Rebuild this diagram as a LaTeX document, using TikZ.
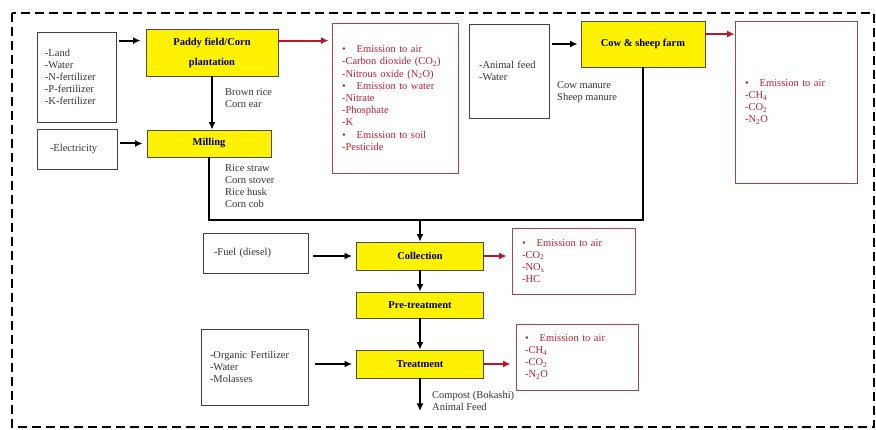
\documentclass[tikz,border=0pt]{standalone}
\usepackage{fontspec}
\setmainfont{Liberation Serif}
\usetikzlibrary{positioning}
\usetikzlibrary{arrows.meta}

\definecolor{boxred}{HTML}{A8424E}
\definecolor{textred}{HTML}{B8202F}
\definecolor{arrowred}{HTML}{C0142C}

\newcommand{\emisbullet}{\textbullet\hspace{11pt}}

\tikzset{
  procbox/.style={draw=black!70, fill=yellow, line width=0.8pt,
    font=\fontsize{10.5}{12}\selectfont\bfseries},
  inbox/.style={draw=black!75, line width=0.8pt, align=left, text=black!80,
    font=\fontsize{10.5}{12}\selectfont},
  emisbox/.style={draw=boxred, line width=0.8pt, align=left, text=textred,
    font=\fontsize{10.5}{12.2}\selectfont},
  flow/.style={->, >={Latex[length=7.5pt,width=7pt]}, line width=2pt},
  redflow/.style={->, >={Latex[length=7.5pt,width=7pt]}, line width=2pt, draw=arrowred},
  note/.style={anchor=west, align=left, inner sep=0pt, text=black!80,
    font=\fontsize{10.5}{11.8}\selectfont},
}

\begin{document}
\begin{tikzpicture}[x=1pt, y=-1pt]
  \useasboundingbox (0,0) rectangle (876,430);
  \draw[line width=2.6pt, dash pattern=on 9pt off 5pt] (12,13) rectangle (874,427);

  % inputs
  \node[inbox, minimum width=79pt, minimum height=90pt, text width=63pt] (land) at (76.5,77)
    {-Land\\-Water\\-N-fertilizer\\-P-fertilizer\\-K-fertilizer};
  \node[inbox, minimum width=80pt, minimum height=40pt, text width=54pt] (elec) at (77,149)
    {-Electricity};
  \node[inbox, minimum width=80pt, minimum height=94pt, text width=60pt] (feed) at (509,71)
    {-Animal feed\\-Water};
  \node[inbox, minimum width=105pt, minimum height=40pt, text width=83pt] (fuel) at (255.5,253)
    {-Fuel (diesel)};
  \node[inbox, minimum width=107pt, minimum height=76pt, text width=89pt] (org) at (254.5,367)
    {-Organic Fertilizer\\-Water\\-Molasses};

  % processes
  \node[procbox, minimum width=132pt, minimum height=47pt, align=center,
    font=\fontsize{10.5}{20}\selectfont\bfseries] (paddy) at (212,52.5) {Paddy field/Corn\\plantation};
  \node[procbox, minimum width=124pt, minimum height=27pt] (mill) at (209,143.5) {Milling};
  \node[procbox, minimum width=124pt, minimum height=46pt] (cow) at (643,44) {Cow \& sheep farm};
  \node[procbox, minimum width=127pt, minimum height=28pt] (coll) at (420,256) {Collection};
  \node[procbox, minimum width=127pt, minimum height=26pt] (pre) at (420,305) {Pre-treatment};
  \node[procbox, minimum width=127pt, minimum height=28pt] (treat) at (420,364) {Treatment};

  % emissions
  \node[emisbox, minimum width=126pt, minimum height=150pt, text width=106pt] (emis1) at (395,98)
    {\emisbullet Emission to air\\-Carbon dioxide (CO\textsubscript{2})\\-Nitrous oxide (N\textsubscript{2}O)\\
     \emisbullet Emission to water\\-Nitrate\\-Phosphate\\-K\\
     \emisbullet Emission to soil\\-Pesticide};
  \node[emisbox, minimum width=122pt, minimum height=162pt, text width=102pt] (emis2) at (796,102)
    {\emisbullet Emission to air\\-CH\textsubscript{4}\\-CO\textsubscript{2}\\-N\textsubscript{2}O};
  \node[emisbox, minimum width=123pt, minimum height=66pt, text width=103pt] (emis3) at (573.5,261)
    {\emisbullet Emission to air\\-CO\textsubscript{2}\\-NO\textsubscript{x}\\-HC};
  \node[emisbox, minimum width=122pt, minimum height=66pt, text width=104pt] (emis4) at (577,357)
    {\emisbullet Emission to air\\-CH\textsubscript{4}\\-CO\textsubscript{2}\\-N\textsubscript{2}O};

  % products
  \node[note] (grain) at (225,98) {Brown rice\\Corn ear};
  \node[note] (residue) at (225,186) {Rice straw\\Corn stover\\Rice husk\\Corn cob};
  \node[note] (manure) at (557,92) {Cow manure\\Sheep manure};
  \node[note] (compost) at (432,401) {Compost (Bokashi)\\Animal Feed};

  \coordinate (join) at (420,220);
  \coordinate (product) at (420,411);

  % flows
  \draw[flow, shorten <=3pt, shorten >=5pt] ([yshift=-9pt]land.north east) -- ([yshift=-9pt]land.north east -| paddy.west);
  \draw[redflow, shorten >=3pt] ([yshift=-12pt]paddy.north east) -- ([yshift=-12pt]paddy.north east -| emis1.west);
  \draw[flow] (paddy.south) -- (paddy.south |- mill.north);
  \draw[flow, shorten <=3pt, shorten >=4pt] (elec.east |- mill) -- (mill.west);
  \draw[line width=2pt] (mill.south) |- (join) -| (cow.south);
  \draw[flow] (join) -- (coll.north);
  \draw[flow, shorten <=3pt, shorten >=3pt] (feed.east |- cow.west) -- (cow.west);
  \draw[redflow] ([yshift=10pt]cow.east) -- ([yshift=10pt]cow.east -| emis2.west);
  \draw[flow, shorten <=5pt, shorten >=4pt] (fuel.east |- coll.west) -- (coll.west);
  \draw[redflow, shorten >=5pt] (coll.east) -- (coll.east -| emis3.west);
  \draw[flow] (coll.south) -- (pre.north);
  \draw[flow] (pre.south) -- (treat.north);
  \draw[flow, shorten <=7pt, shorten >=4pt] (org.east |- treat.west) -- (treat.west);
  \draw[redflow, shorten >=5pt] (treat.east) -- (treat.east -| emis4.west);
  \draw[flow] (treat.south) -- (product);
\end{tikzpicture}
\end{document}
